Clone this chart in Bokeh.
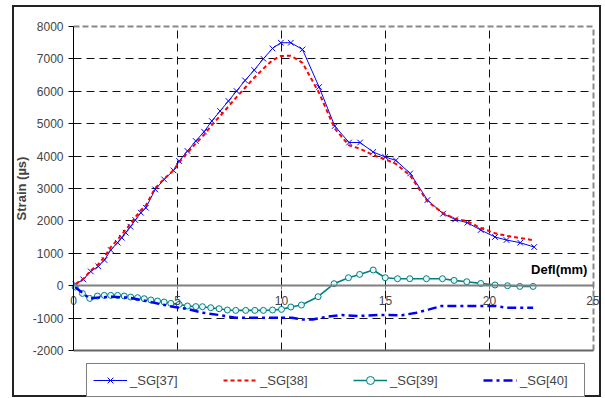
from bokeh.plotting import figure
from bokeh.models import Range1d, FixedTicker, Label, Legend, LegendItem, Grid
from bokeh.embed import file_html
from bokeh.resources import INLINE

# ---- data ----
x_ticks = [0, 5, 10, 15, 20, 25]
y_ticks = [-2000, -1000, 0, 1000, 2000, 3000, 4000, 5000, 6000, 7000, 8000]
y_tick_text = {-2000: "-2000", -1000: "-1000"}

defl_37 = [0.1, 0.47, 0.83, 1.19, 1.49, 1.79, 2.12, 2.32, 2.51, 2.74, 2.97, 3.24, 3.48, 3.93,
           4.36, 4.81, 5.08, 5.48, 5.88, 6.28, 6.65, 7.05, 7.45, 7.84, 8.25, 8.69, 9.13, 9.57,
           9.97, 10.45, 11.01, 11.81, 12.56, 13.25, 13.78, 14.41, 14.99, 15.50, 16.19, 17.02,
           17.77, 18.35, 18.94, 19.58, 20.27, 20.82, 21.48, 22.15]
sg37 = [50, 195, 441, 596, 793, 1102, 1327, 1481, 1636, 1820, 2027, 2253, 2407, 2972, 3280,
        3558, 3848, 4157, 4466, 4752, 5083, 5391, 5700, 6008, 6335, 6656, 7005, 7323, 7499,
        7499, 7292, 6132, 4928, 4420, 4420, 4126, 3972, 3867, 3466, 2645, 2222, 2046, 1944,
        1719, 1503, 1410, 1327, 1194]

defl_38 = defl_37
sg38 = [50, 210, 470, 660, 890, 1190, 1420, 1580, 1730, 1910, 2110, 2330, 2480, 3010, 3300,
        3560, 3810, 4100, 4390, 4660, 4960, 5240, 5530, 5820, 6110, 6420, 6700, 6960, 7090,
        7100, 6880, 5950, 4850, 4330, 4230, 4030, 3900, 3760, 3400, 2600, 2240, 2070, 1990,
        1780, 1620, 1540, 1470, 1400]

defl_39 = [0.08, 0.43, 0.78, 1.15, 1.48, 1.79, 2.12, 2.44, 2.75, 3.08, 3.40, 3.72, 4.04, 4.36,
           4.68, 5.08, 5.48, 5.88, 6.20, 6.60, 7.00, 7.40, 7.80, 8.28, 8.72, 9.13, 9.57, 10.0,
           10.45, 10.96, 11.76, 12.53, 13.22, 13.76, 14.41, 14.99, 15.58, 16.17, 16.97, 17.74,
           18.30, 18.91, 19.58, 20.27, 20.87, 21.46, 22.1]
sg39 = [-40, -238, -392, -318, -299, -299, -299, -318, -349, -370, -401, -441, -472, -503,
        -546, -577, -626, -645, -648, -679, -710, -750, -762, -762, -762, -762, -750, -731,
        -657, -596, -339, 62, 247, 349, 485, 247, 216, 216, 216, 216, 164, 123, 71, 22, 0,
        -22, -22]

defl_40 = [0.08, 0.78, 1.23, 1.88, 2.68, 3.48, 4.6, 5.56, 6.2, 7.0, 7.8, 9.1, 10.5, 11.0,
           11.5, 12.1, 12.9, 13.7, 14.7, 15.8, 16.5, 17.1, 17.7, 19.0, 20.3, 20.8, 22.1]
sg40 = [-40, -400, -360, -340, -370, -470, -626, -731, -833, -904, -987, -987, -987, -1040,
        -1040, -966, -904, -935, -904, -910, -833, -731, -626, -626, -626, -679, -679]

labels = ["_SG[37]", "_SG[38]", "_SG[39]", "_SG[40]"]
x_title = "Defl(mm)"
y_title = "Strain (\u00b5s)"

FONT = "Liberation Sans"
X_MIN, X_MAX = 0, 25
Y_MIN, Y_MAX = -2000, 8000

# frame covers nearly the whole canvas so nothing is clipped; plot area is 0..25 x -2000..8000
p = figure(width=589, height=392, x_range=Range1d(-2.837, 25.34), y_range=Range1d(-3481, 8432),
           output_backend="svg", toolbar_location=None,
           min_border_left=0, min_border_right=3, min_border_top=5, min_border_bottom=1)
p.margin = (5, 0, 0, 12)
p.styles = {"border": "2px solid #222"}
p.outline_line_color = None
p.background_fill_color = "white"
p.border_fill_color = "white"

# grid
p.xgrid.ticker = FixedTicker(ticks=[t for t in x_ticks if X_MIN < t < X_MAX])
p.ygrid.ticker = FixedTicker(ticks=[t for t in y_ticks if t not in (Y_MIN, 0, Y_MAX)])
p.xgrid.cross_bounds = (Y_MIN, Y_MAX)
p.ygrid.cross_bounds = (X_MIN, X_MAX)
for g in (p.xgrid, p.ygrid):
    g.grid_line_color = "#111111"
    g.grid_line_dash = "8 5"
    g.grid_line_width = 1

# plot-area edges
top_edge = Grid(dimension=1, ticker=FixedTicker(ticks=[Y_MAX]), cross_bounds=(X_MIN, X_MAX),
                grid_line_color="#888888", grid_line_dash="6 3", grid_line_width=2)
right_edge = Grid(dimension=0, ticker=FixedTicker(ticks=[X_MAX]), cross_bounds=(Y_MIN, Y_MAX),
                  grid_line_color="#888888", grid_line_dash="6 3", grid_line_width=2)
bottom_edge = Grid(dimension=1, ticker=FixedTicker(ticks=[Y_MIN]), cross_bounds=(X_MIN, X_MAX),
                   grid_line_color="#666666", grid_line_width=2)
for g in (top_edge, right_edge, bottom_edge):
    p.add_layout(g)

# y axis at x = 0
p.yaxis.fixed_location = 0
p.yaxis.bounds = (Y_MIN, Y_MAX)
p.yaxis.ticker = FixedTicker(ticks=y_ticks)
p.yaxis.major_label_overrides = y_tick_text
p.yaxis.axis_label = y_title
p.yaxis.axis_label_text_font = FONT
p.yaxis.axis_label_text_font_style = "bold"
p.yaxis.axis_label_text_font_size = "13px"
p.yaxis.axis_label_standoff = 1
p.yaxis.major_label_text_font = FONT
p.yaxis.major_label_text_font_size = "12px"
p.yaxis.major_label_standoff = 5
p.yaxis.major_tick_out = 5
p.yaxis.major_tick_in = 0
p.yaxis.minor_tick_line_color = None
p.yaxis.axis_line_color = "black"
p.yaxis.major_tick_line_color = "black"

# x axis crossing at y = 0
p.xaxis.fixed_location = 0
p.xaxis.bounds = (X_MIN, X_MAX)
p.xaxis.ticker = FixedTicker(ticks=x_ticks)
p.xaxis.axis_line_color = "#808080"
p.xaxis.axis_line_width = 2
p.xaxis.major_tick_line_color = "#808080"
p.xaxis.major_tick_out = 4
p.xaxis.major_tick_in = 0
p.xaxis.minor_tick_line_color = None
p.xaxis.major_label_text_font = FONT
p.xaxis.major_label_text_font_size = "12px"
p.xaxis.major_label_standoff = 6

p.add_layout(Label(x=X_MAX, y=0, text=x_title, text_align="right", text_baseline="bottom",
                   x_offset=-6, y_offset=9, text_font=FONT, text_font_size="13px",
                   text_font_style="bold", text_color="black"))

# series
l37 = p.line(defl_37, sg37, line_color="#0000ff", line_width=1)
m37 = p.scatter(defl_37, sg37, marker="x", size=8, line_color="#0000ff", line_width=1)
l38 = p.line(defl_38, sg38, line_color="#ff0000", line_width=2, line_dash="4 3")
l39 = p.line(defl_39, sg39, line_color="#008080", line_width=1.6)
m39 = p.scatter(defl_39, sg39, marker="circle", size=6, line_color="#008080",
                fill_color="#e8f8f8", line_width=1)
l40 = p.line(defl_40, sg40, line_color="#0000ff", line_width=2.5, line_dash="9 4 3 4")

legend = Legend(items=[LegendItem(label=labels[0], renderers=[l37, m37]),
                       LegendItem(label=labels[1], renderers=[l38]),
                       LegendItem(label=labels[2], renderers=[l39, m39]),
                       LegendItem(label=labels[3], renderers=[l40])],
                orientation="horizontal", location=(72, 1), padding=6, spacing=35,
                glyph_width=34, label_standoff=3, label_width=58, margin=0,
                label_text_font=FONT, label_text_font_size="13px",
                border_line_color="black", border_line_width=1,
                background_fill_color="white", background_fill_alpha=1)
p.add_layout(legend, "center")

open("out.html", "w").write(file_html(p, INLINE))
